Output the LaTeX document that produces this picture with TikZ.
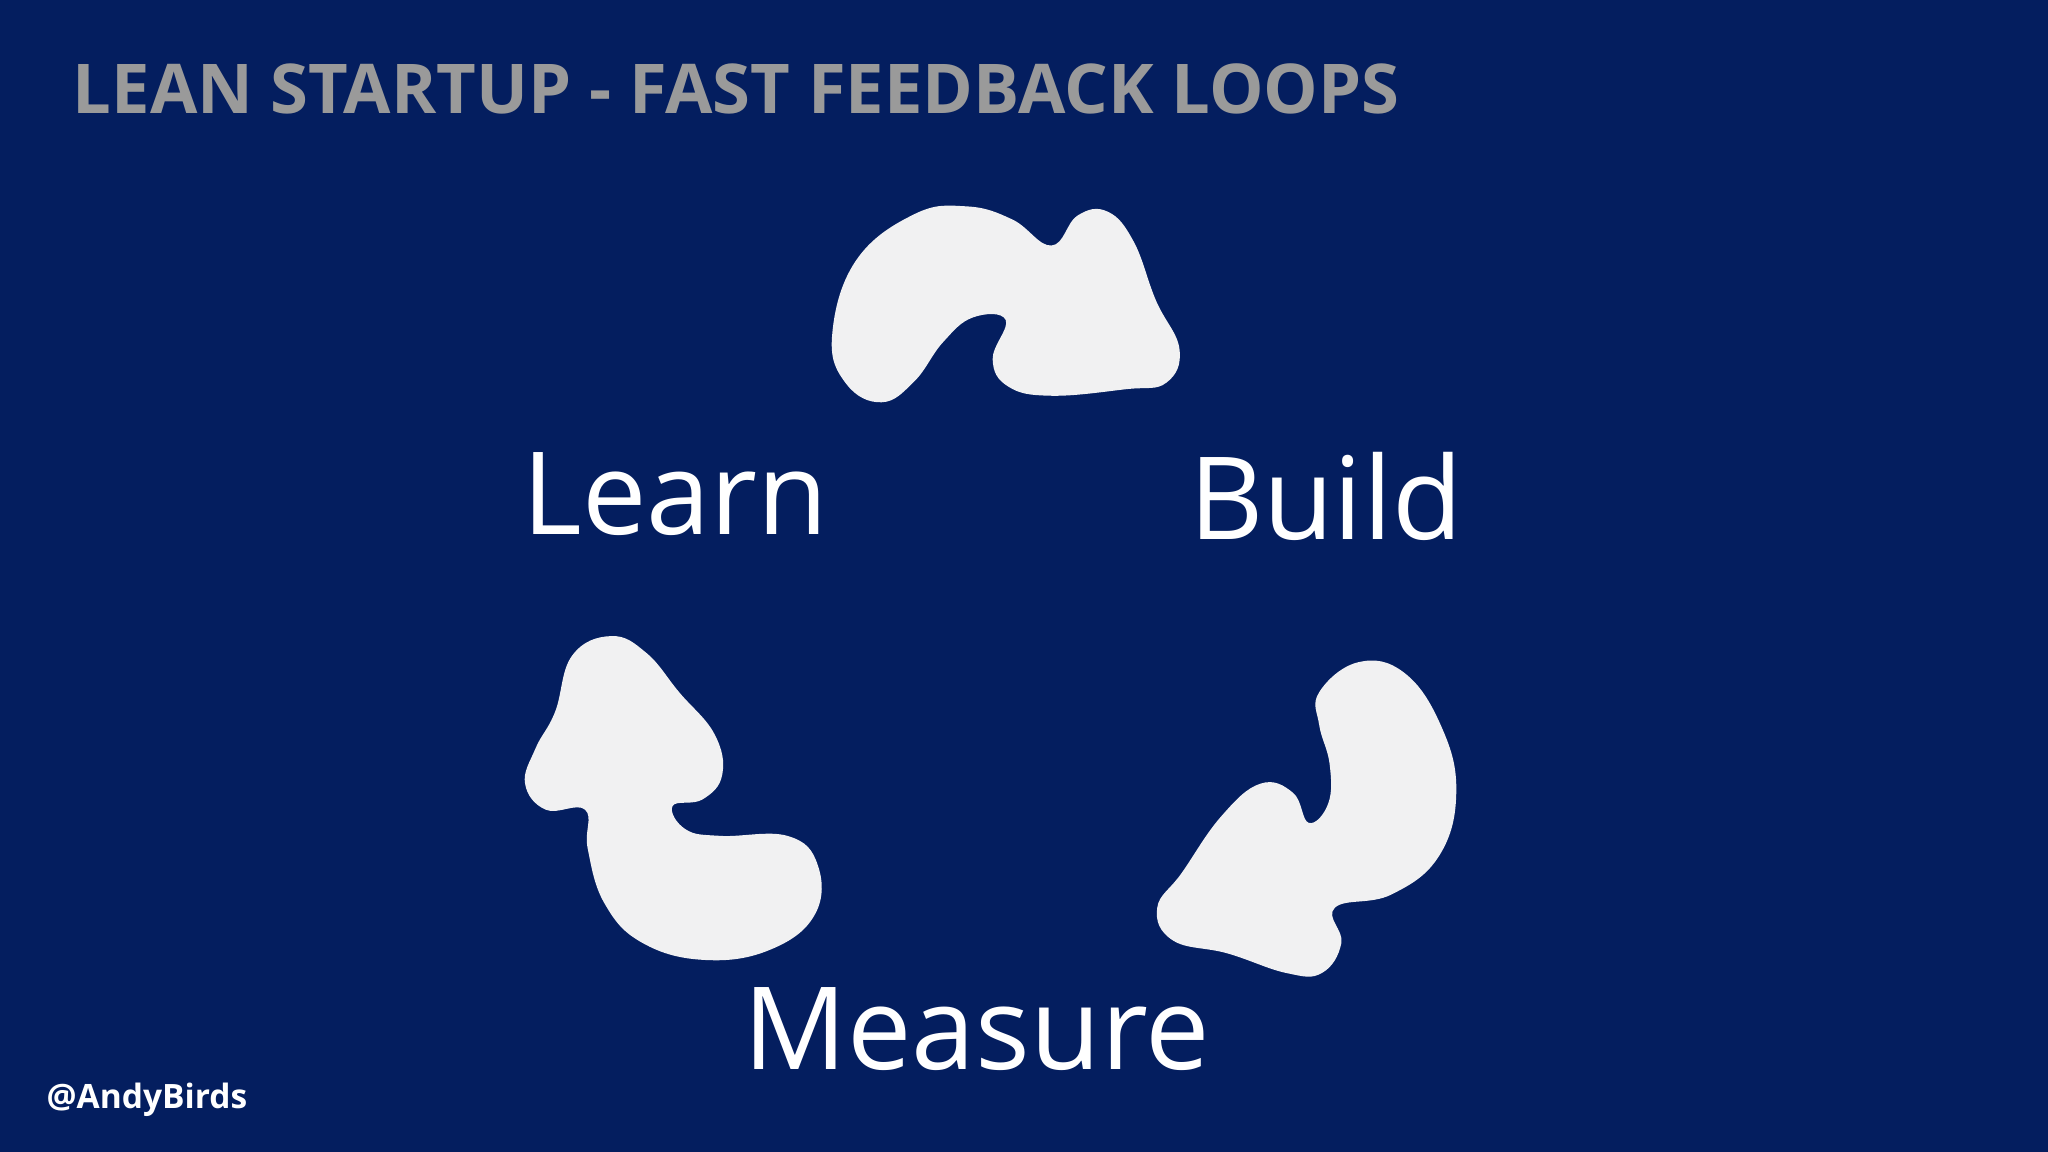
\documentclass[tikz,border=0pt]{standalone}
\usepackage{fontspec}
\setmainfont{Open Sans}
\definecolor{bg}{HTML}{041E5F}
\definecolor{blob}{HTML}{F1F1F2}
\definecolor{ttl}{HTML}{9A9A9A}
\begin{document}
\begin{tikzpicture}[x=0.01cm,y=-0.01cm,
  shapeblob/.style={fill=blob,draw=none},
  lbl/.style={text=white,font=\fontsize{25}{30}\selectfont,inner sep=0}]
\fill[bg] (0,0) rectangle (1568,882);
\useasboundingbox (0,0) rectangle (1568,882);
\node[anchor=west,text=ttl,font=\bfseries\fontsize{14.95}{18}\selectfont,inner sep=0] (title) at (55,68) {LEAN STARTUP - FAST FEEDBACK LOOPS};
\node[anchor=west,text=white,font=\bfseries\fontsize{7.3}{9}\selectfont,inner sep=0] (author) at (35,842) {@AndyBirds};
\node[lbl] (learn) at (517,378) {Learn};
\node[lbl] (build) at (1015,380) {Build};
\node[lbl] (measure) at (748,788) {Measure};
\fill[shapeblob] plot[smooth cycle,tension=0.7] coordinates {(637,258) (655,200) (700,164) (740,158) (775,168) (805,188) (825,165) (848,162) (868,185) (885,230) (903,267) (893,293) (862,298) (805,303) (772,296) (760,275) (770,245) (745,243) (722,262) (700,292) (675,308) (648,294)};
\fill[shapeblob] plot[smooth cycle,tension=0.7] coordinates {(1010,530) (1040,507) (1075,515) (1103,555) (1115,605) (1102,655) (1065,685) (1022,695) (1027,722) (1012,745) (985,745) (940,730) (898,720) (886,695) (905,668) (935,625) (965,600) (990,607) (1002,630) (1017,615) (1018,585) (1010,555)};
\fill[shapeblob] plot[smooth cycle,tension=0.7] coordinates {(438,502) (468,487) (495,500) (520,530) (547,562) (553,593) (538,612) (515,617) (525,635) (552,640) (603,640) (626,662) (624,700) (590,727) (540,735) (492,722) (463,692) (450,650) (448,620) (418,620) (402,600) (410,573) (425,545)};
\end{tikzpicture}
\end{document}
